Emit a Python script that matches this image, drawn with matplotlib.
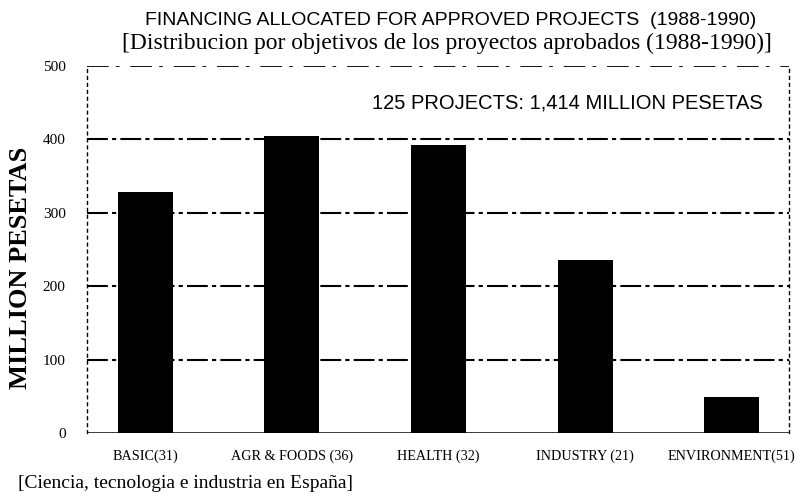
import matplotlib.pyplot as plt

# Data
categories = ['BASIC(31)', 'AGR & FOODS (36)', 'HEALTH (32)', 'INDUSTRY (21)', 'ENVIRONMENT(51)']
financing = [328, 405, 393, 236, 49]
y_ticks = [0, 100, 200, 300, 400, 500]

title_en = 'FINANCING ALLOCATED FOR APPROVED PROJECTS  (1988-1990)'
title_es = '[Distribucion por objetivos de los proyectos aprobados (1988-1990)]'
note = '125 PROJECTS: 1,414 MILLION PESETAS'
source = '[Ciencia, tecnologia e industria en España]'


def main():
    serif = 'Liberation Serif'
    sans = 'Liberation Sans'

    fig = plt.figure(figsize=(8.01, 4.98), dpi=100)
    ax = fig.add_axes([0.108, 0.1305, 0.877, 0.737])

    x = range(len(categories))
    ax.bar(x, financing, width=0.375, color='black', zorder=3)

    # Dash-dot grid lines like the scanned original
    for v in y_ticks[1:-1]:
        ax.axhline(v, color='black', linewidth=1.5, linestyle=(0, (10, 2, 2, 2)), zorder=1)
    ax.axhline(y_ticks[-1], color='black', linewidth=1.3, linestyle=(0, (12, 4, 2, 6)), zorder=1)
    ax.axhline(0, color='black', linewidth=1.8, zorder=4)

    ax.set_xlim(-0.40, 4.39)
    ax.set_ylim(0, 500)

    for side in ['top', 'bottom']:
        ax.spines[side].set_visible(False)
    for side in ['left', 'right']:
        ax.spines[side].set_linestyle((0, (2, 3)))
        ax.spines[side].set_linewidth(1.0)

    ax.set_yticks(y_ticks)
    ax.set_yticklabels([str(v) for v in y_ticks], family=serif, fontsize=11)
    ax.set_xticks(list(x))
    ax.set_xticklabels(categories, family=serif, fontsize=10.2)
    ax.tick_params(axis='y', length=0, pad=15)
    ax.tick_params(axis='x', length=0, pad=12)

    ax.set_ylabel('MILLION PESETAS', family=serif, fontsize=19, weight='bold')
    ax.yaxis.set_label_coords(-0.077, 0.45)

    fig.text(145 / 801, 1 - 20 / 498, title_en, family=sans, fontsize=14, ha='left', va='center')
    fig.text(122 / 801, 1 - 43 / 498, title_es, family=serif, fontsize=17, ha='left', va='center')
    ax.text(0.962, 0.9, note, transform=ax.transAxes, family=sans, fontsize=14.5,
            ha='right', va='center')
    fig.text(18 / 801, 1 - 483 / 498, source, family=serif, fontsize=14, ha='left', va='center')

    fig.savefig('out.png', dpi=100)
    plt.close(fig)


if __name__ == '__main__':
    main()
